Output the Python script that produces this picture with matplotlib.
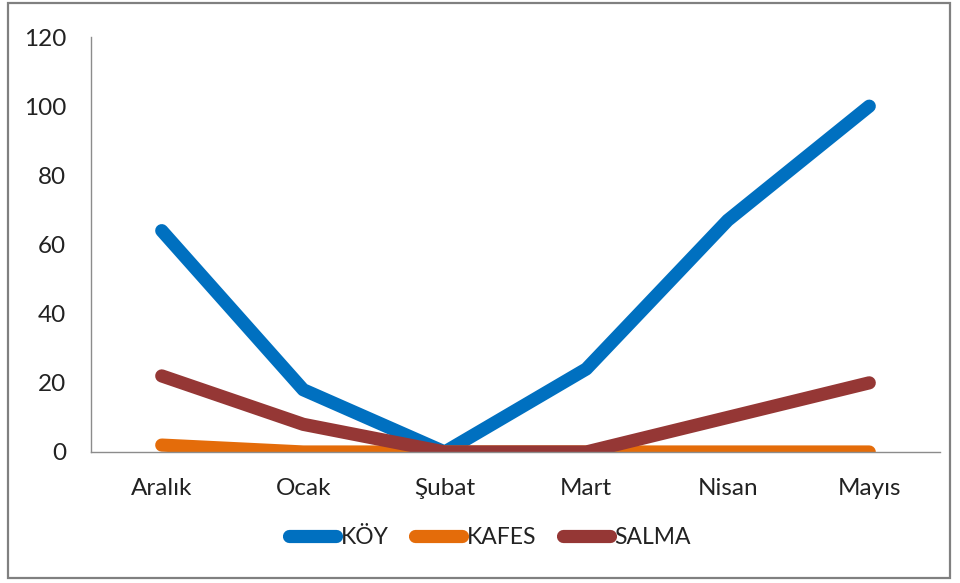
import matplotlib
matplotlib.use("Agg")
from matplotlib import pyplot as plt
import matplotlib.patches as patches

# monthly counts per rearing type
months = ["Aralık", "Ocak", "Şubat", "Mart", "Nisan", "Mayıs"]
koy = [64, 18, 0, 24, 67, 100]
kafes = [2, 0, 0, 0, 0, 0]
salma = [22, 8, 0, 0, 10, 20]

plt.rcParams['font.family'] = ['Lato', 'DejaVu Sans']

W, H = 960, 583
fig = plt.figure(figsize=(W / 100, H / 100), dpi=100)
ax = fig.add_axes([91 / W, 1 - 452 / H, (940 - 91) / W, (452 - 37) / H])

x = range(len(months))
style = dict(lw=9.5, solid_capstyle='round', solid_joinstyle='round')
ax.plot(x, koy, color='#0070C0', label='KÖY', **style)
ax.plot(x, kafes, color='#E46C0A', label='KAFES', **style)
ax.plot(x, salma, color='#953735', label='SALMA', **style)

ax.set_xlim(-0.5, len(months) - 0.5)
ax.set_ylim(0, 120)
ax.set_yticks(range(0, 121, 20))
ax.set_xticks(list(x))
ax.set_xticklabels(months)
ax.tick_params(axis='both', length=0, labelsize=17.5, colors='#222222')
ax.tick_params(axis='y', pad=18)
ax.tick_params(axis='x', pad=19)
for s in ['top', 'right']:
    ax.spines[s].set_visible(False)
for s in ['left', 'bottom']:
    ax.spines[s].set_color('#8c8c8c')
    ax.spines[s].set_linewidth(1)

leg = ax.legend(loc='center', bbox_to_anchor=(490 / W, 1 - 538 / H),
                bbox_transform=fig.transFigure, ncol=3, frameon=False,
                fontsize=16.5, handlelength=2.05, handletextpad=0.2, columnspacing=1.15)
for t in leg.get_texts():
    t.set_color('#222222')

# outer chart frame
fig.patches.append(patches.Rectangle((8 / W, 1 - 578 / H), (950 - 8) / W, (578 - 3) / H,
                                     transform=fig.transFigure, fill=False,
                                     edgecolor='#808080', lw=1.6))

fig.savefig("out.png", dpi=100)
